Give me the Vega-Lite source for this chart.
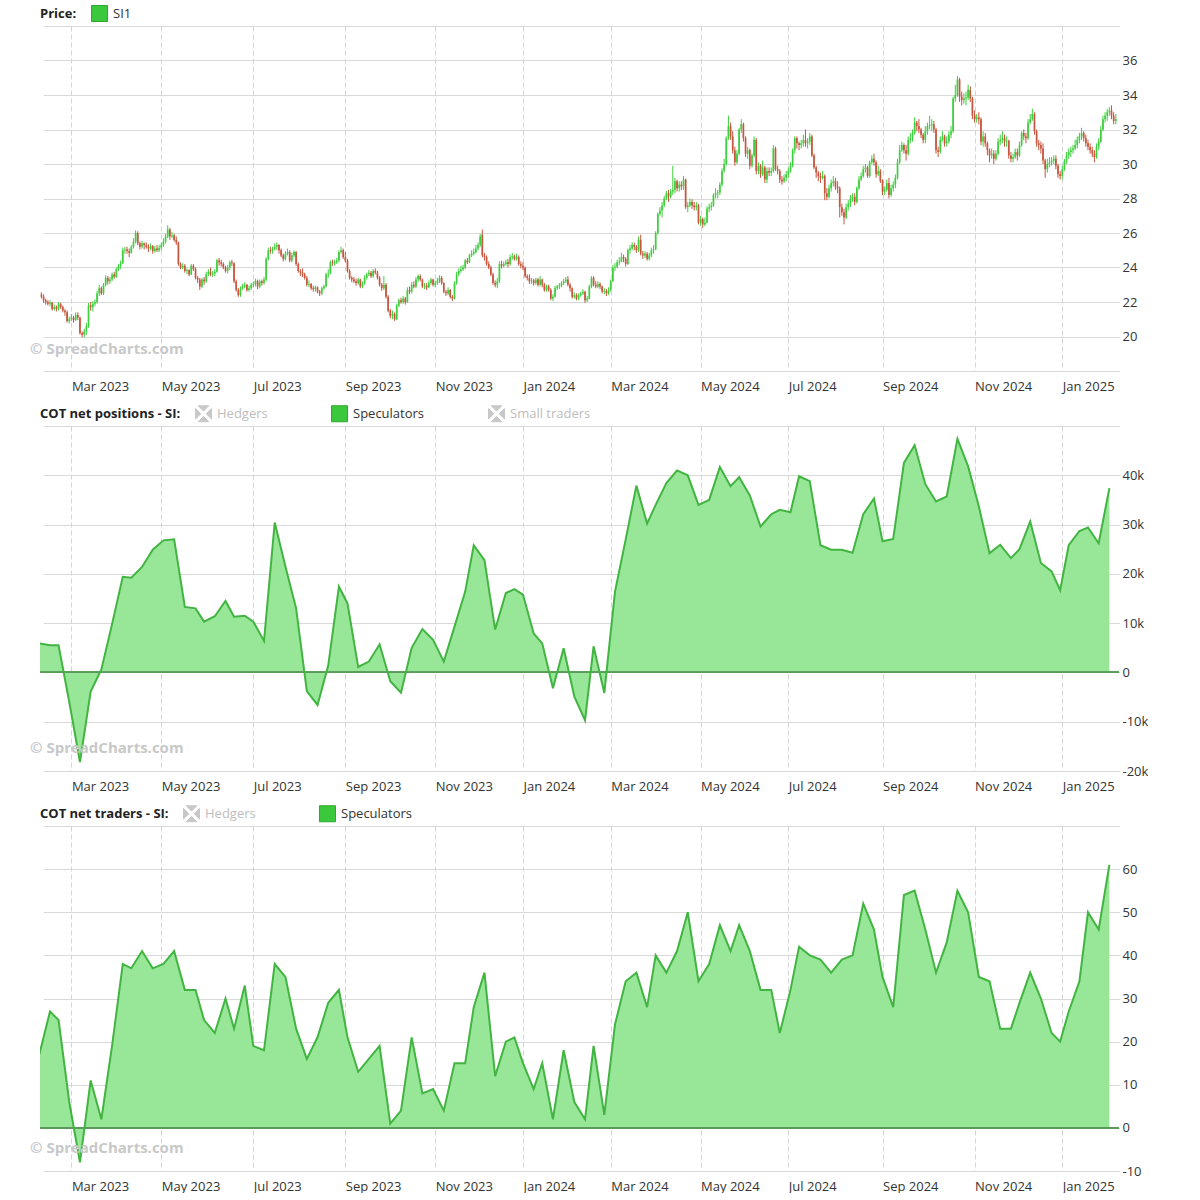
{
"$schema":"https://vega.github.io/schema/vega-lite/v6.json",
"background":"white",
"padding":{"left":30,"top":5,"right":0,"bottom":0},
"autosize":{"type":"pad"},
"config":{"font":"Open Sans","view":{"stroke":null}},
"spacing":55,
"bounds":"flush",
"resolve":{"scale":{"x":"shared","color":"independent"},"axis":{"x":"independent"},"legend":{"color":"independent"}},
"datasets":{
"px":[
{"d":"2023-02-07","o":22.55,"h":22.7,"l":22.3,"c":22.4},
{"d":"2023-02-08","o":22.4,"h":22.55,"l":22.2,"c":22.3},
{"d":"2023-02-09","o":22.3,"h":22.45,"l":21.95,"c":22.1},
{"d":"2023-02-10","o":22.1,"h":22.2,"l":21.85,"c":22.0},
{"d":"2023-02-13","o":22.0,"h":22.1,"l":21.8,"c":21.9},
{"d":"2023-02-14","o":21.9,"h":22.1,"l":21.75,"c":21.95},
{"d":"2023-02-15","o":21.95,"h":22.0,"l":21.5,"c":21.6},
{"d":"2023-02-16","o":21.6,"h":21.85,"l":21.5,"c":21.7},
{"d":"2023-02-17","o":21.7,"h":21.8,"l":21.45,"c":21.6},
{"d":"2023-02-21","o":21.6,"h":22.0,"l":21.5,"c":21.9},
{"d":"2023-02-22","o":21.9,"h":21.95,"l":21.6,"c":21.7},
{"d":"2023-02-23","o":21.7,"h":21.8,"l":21.4,"c":21.5},
{"d":"2023-02-24","o":21.5,"h":21.6,"l":21.2,"c":21.4},
{"d":"2023-02-27","o":21.4,"h":21.5,"l":20.8,"c":20.9},
{"d":"2023-02-28","o":20.9,"h":21.15,"l":20.75,"c":21.0},
{"d":"2023-03-01","o":21.0,"h":21.3,"l":20.9,"c":21.1},
{"d":"2023-03-02","o":21.1,"h":21.2,"l":20.8,"c":20.95},
{"d":"2023-03-03","o":20.95,"h":21.4,"l":20.9,"c":21.25},
{"d":"2023-03-06","o":21.25,"h":21.4,"l":20.95,"c":21.1},
{"d":"2023-03-07","o":21.1,"h":21.15,"l":20.1,"c":20.2},
{"d":"2023-03-08","o":20.2,"h":20.3,"l":19.95,"c":20.1},
{"d":"2023-03-09","o":20.1,"h":20.45,"l":19.95,"c":20.3},
{"d":"2023-03-10","o":20.3,"h":20.8,"l":20.1,"c":20.6},
{"d":"2023-03-13","o":20.6,"h":21.95,"l":20.5,"c":21.8},
{"d":"2023-03-14","o":21.8,"h":22.0,"l":21.5,"c":21.7},
{"d":"2023-03-15","o":21.7,"h":22.05,"l":21.45,"c":21.9},
{"d":"2023-03-16","o":21.9,"h":22.15,"l":21.75,"c":22.0},
{"d":"2023-03-17","o":22.0,"h":22.65,"l":21.9,"c":22.5},
{"d":"2023-03-20","o":22.5,"h":23.0,"l":22.35,"c":22.8},
{"d":"2023-03-21","o":22.8,"h":22.9,"l":22.4,"c":22.5},
{"d":"2023-03-22","o":22.5,"h":23.1,"l":22.4,"c":23.0},
{"d":"2023-03-23","o":23.0,"h":23.55,"l":22.9,"c":23.4},
{"d":"2023-03-24","o":23.4,"h":23.5,"l":23.0,"c":23.2},
{"d":"2023-03-27","o":23.2,"h":23.45,"l":23.05,"c":23.3},
{"d":"2023-03-28","o":23.3,"h":23.7,"l":23.2,"c":23.6},
{"d":"2023-03-29","o":23.6,"h":23.75,"l":23.35,"c":23.45},
{"d":"2023-03-30","o":23.45,"h":24.0,"l":23.4,"c":23.9},
{"d":"2023-03-31","o":23.9,"h":24.2,"l":23.8,"c":24.1},
{"d":"2023-04-03","o":24.1,"h":24.4,"l":23.9,"c":24.25},
{"d":"2023-04-04","o":24.25,"h":25.15,"l":24.2,"c":25.0},
{"d":"2023-04-05","o":25.0,"h":25.2,"l":24.8,"c":25.05},
{"d":"2023-04-06","o":25.05,"h":25.2,"l":24.8,"c":24.95},
{"d":"2023-04-10","o":24.95,"h":25.1,"l":24.6,"c":24.85},
{"d":"2023-04-11","o":24.85,"h":25.3,"l":24.8,"c":25.2},
{"d":"2023-04-12","o":25.2,"h":25.7,"l":25.1,"c":25.5},
{"d":"2023-04-13","o":25.5,"h":26.15,"l":25.4,"c":26.0},
{"d":"2023-04-14","o":26.0,"h":26.1,"l":25.3,"c":25.4},
{"d":"2023-04-17","o":25.4,"h":25.5,"l":25.05,"c":25.2},
{"d":"2023-04-18","o":25.2,"h":25.55,"l":25.1,"c":25.4},
{"d":"2023-04-19","o":25.4,"h":25.45,"l":25.05,"c":25.3},
{"d":"2023-04-20","o":25.3,"h":25.45,"l":25.1,"c":25.2},
{"d":"2023-04-21","o":25.2,"h":25.35,"l":24.9,"c":25.1},
{"d":"2023-04-24","o":25.1,"h":25.4,"l":25.0,"c":25.25},
{"d":"2023-04-25","o":25.25,"h":25.3,"l":24.8,"c":24.95},
{"d":"2023-04-26","o":24.95,"h":25.25,"l":24.85,"c":25.1},
{"d":"2023-04-27","o":25.1,"h":25.3,"l":24.9,"c":25.0},
{"d":"2023-04-28","o":25.0,"h":25.3,"l":24.9,"c":25.15},
{"d":"2023-05-01","o":25.15,"h":25.45,"l":25.0,"c":25.3},
{"d":"2023-05-02","o":25.3,"h":25.7,"l":25.2,"c":25.5},
{"d":"2023-05-03","o":25.5,"h":25.95,"l":25.4,"c":25.8},
{"d":"2023-05-04","o":25.8,"h":26.45,"l":25.7,"c":26.2},
{"d":"2023-05-05","o":26.2,"h":26.3,"l":25.6,"c":25.8},
{"d":"2023-05-08","o":25.8,"h":26.05,"l":25.7,"c":25.85},
{"d":"2023-05-09","o":25.85,"h":25.95,"l":25.5,"c":25.6},
{"d":"2023-05-10","o":25.6,"h":25.8,"l":25.3,"c":25.45},
{"d":"2023-05-11","o":25.45,"h":25.5,"l":24.1,"c":24.2},
{"d":"2023-05-12","o":24.2,"h":24.3,"l":23.9,"c":24.0},
{"d":"2023-05-15","o":24.0,"h":24.25,"l":23.9,"c":24.1},
{"d":"2023-05-16","o":24.1,"h":24.2,"l":23.7,"c":23.8},
{"d":"2023-05-17","o":23.8,"h":23.95,"l":23.6,"c":23.85},
{"d":"2023-05-18","o":23.85,"h":23.9,"l":23.5,"c":23.6},
{"d":"2023-05-19","o":23.6,"h":24.2,"l":23.55,"c":24.1},
{"d":"2023-05-22","o":24.1,"h":24.2,"l":23.8,"c":23.9},
{"d":"2023-05-23","o":23.9,"h":24.0,"l":23.3,"c":23.4},
{"d":"2023-05-24","o":23.4,"h":23.5,"l":23.1,"c":23.3},
{"d":"2023-05-25","o":23.3,"h":23.4,"l":22.7,"c":22.9},
{"d":"2023-05-26","o":22.9,"h":23.4,"l":22.8,"c":23.3},
{"d":"2023-05-30","o":23.3,"h":23.45,"l":23.0,"c":23.2},
{"d":"2023-05-31","o":23.2,"h":23.75,"l":23.1,"c":23.6},
{"d":"2023-06-01","o":23.6,"h":23.9,"l":23.5,"c":23.75},
{"d":"2023-06-02","o":23.75,"h":24.0,"l":23.5,"c":23.6},
{"d":"2023-06-05","o":23.6,"h":23.8,"l":23.45,"c":23.65},
{"d":"2023-06-06","o":23.65,"h":23.9,"l":23.5,"c":23.75},
{"d":"2023-06-07","o":23.75,"h":24.5,"l":23.7,"c":24.4},
{"d":"2023-06-08","o":24.4,"h":24.55,"l":24.1,"c":24.3},
{"d":"2023-06-09","o":24.3,"h":24.45,"l":24.05,"c":24.2},
{"d":"2023-06-12","o":24.2,"h":24.3,"l":23.9,"c":24.0},
{"d":"2023-06-13","o":24.0,"h":24.1,"l":23.7,"c":23.8},
{"d":"2023-06-14","o":23.8,"h":24.15,"l":23.65,"c":24.0},
{"d":"2023-06-15","o":24.0,"h":24.4,"l":23.85,"c":24.3},
{"d":"2023-06-16","o":24.3,"h":24.45,"l":24.1,"c":24.25},
{"d":"2023-06-20","o":24.25,"h":24.3,"l":23.1,"c":23.2},
{"d":"2023-06-21","o":23.2,"h":23.3,"l":22.6,"c":22.7},
{"d":"2023-06-22","o":22.7,"h":22.8,"l":22.3,"c":22.4},
{"d":"2023-06-23","o":22.4,"h":22.9,"l":22.3,"c":22.8},
{"d":"2023-06-26","o":22.8,"h":23.05,"l":22.7,"c":22.9},
{"d":"2023-06-27","o":22.9,"h":23.15,"l":22.8,"c":23.0},
{"d":"2023-06-28","o":23.0,"h":23.05,"l":22.6,"c":22.7},
{"d":"2023-06-29","o":22.7,"h":22.95,"l":22.6,"c":22.8},
{"d":"2023-06-30","o":22.8,"h":23.1,"l":22.7,"c":23.0},
{"d":"2023-07-03","o":23.0,"h":23.2,"l":22.85,"c":23.05},
{"d":"2023-07-05","o":23.05,"h":23.35,"l":22.9,"c":23.2},
{"d":"2023-07-06","o":23.2,"h":23.3,"l":22.75,"c":22.9},
{"d":"2023-07-07","o":22.9,"h":23.3,"l":22.8,"c":23.2},
{"d":"2023-07-10","o":23.2,"h":23.3,"l":22.95,"c":23.1},
{"d":"2023-07-11","o":23.1,"h":23.45,"l":23.0,"c":23.3},
{"d":"2023-07-12","o":23.3,"h":24.6,"l":23.2,"c":24.5},
{"d":"2023-07-13","o":24.5,"h":25.15,"l":24.4,"c":25.0},
{"d":"2023-07-14","o":25.0,"h":25.2,"l":24.8,"c":24.95},
{"d":"2023-07-17","o":24.95,"h":25.2,"l":24.8,"c":25.1},
{"d":"2023-07-18","o":25.1,"h":25.4,"l":25.0,"c":25.2},
{"d":"2023-07-19","o":25.2,"h":25.45,"l":25.0,"c":25.3},
{"d":"2023-07-20","o":25.3,"h":25.35,"l":24.8,"c":25.0},
{"d":"2023-07-21","o":25.0,"h":25.1,"l":24.6,"c":24.7},
{"d":"2023-07-24","o":24.7,"h":24.8,"l":24.35,"c":24.5},
{"d":"2023-07-25","o":24.5,"h":24.95,"l":24.4,"c":24.8},
{"d":"2023-07-26","o":24.8,"h":25.1,"l":24.7,"c":24.9},
{"d":"2023-07-27","o":24.9,"h":25.0,"l":24.3,"c":24.4},
{"d":"2023-07-28","o":24.4,"h":24.85,"l":24.3,"c":24.7},
{"d":"2023-07-31","o":24.7,"h":25.0,"l":24.6,"c":24.9},
{"d":"2023-08-01","o":24.9,"h":24.95,"l":24.1,"c":24.2},
{"d":"2023-08-02","o":24.2,"h":24.3,"l":23.7,"c":23.8},
{"d":"2023-08-03","o":23.8,"h":23.9,"l":23.5,"c":23.7},
{"d":"2023-08-04","o":23.7,"h":23.95,"l":23.45,"c":23.6},
{"d":"2023-08-07","o":23.6,"h":23.7,"l":23.3,"c":23.4},
{"d":"2023-08-08","o":23.4,"h":23.5,"l":22.9,"c":23.0},
{"d":"2023-08-09","o":23.0,"h":23.25,"l":22.85,"c":23.05},
{"d":"2023-08-10","o":23.05,"h":23.1,"l":22.7,"c":22.8},
{"d":"2023-08-11","o":22.8,"h":22.95,"l":22.6,"c":22.75},
{"d":"2023-08-14","o":22.75,"h":22.95,"l":22.6,"c":22.85},
{"d":"2023-08-15","o":22.85,"h":22.9,"l":22.5,"c":22.6},
{"d":"2023-08-16","o":22.6,"h":22.7,"l":22.35,"c":22.5},
{"d":"2023-08-17","o":22.5,"h":22.9,"l":22.4,"c":22.8},
{"d":"2023-08-18","o":22.8,"h":23.0,"l":22.7,"c":22.9},
{"d":"2023-08-21","o":22.9,"h":23.7,"l":22.85,"c":23.6},
{"d":"2023-08-22","o":23.6,"h":23.9,"l":23.4,"c":23.65},
{"d":"2023-08-23","o":23.65,"h":24.4,"l":23.6,"c":24.3},
{"d":"2023-08-24","o":24.3,"h":24.45,"l":24.1,"c":24.25},
{"d":"2023-08-25","o":24.25,"h":24.45,"l":24.1,"c":24.3},
{"d":"2023-08-28","o":24.3,"h":24.55,"l":24.2,"c":24.4},
{"d":"2023-08-29","o":24.4,"h":25.0,"l":24.3,"c":24.9},
{"d":"2023-08-30","o":24.9,"h":25.2,"l":24.8,"c":25.0},
{"d":"2023-08-31","o":25.0,"h":25.1,"l":24.5,"c":24.6},
{"d":"2023-09-01","o":24.6,"h":24.9,"l":24.3,"c":24.4},
{"d":"2023-09-05","o":24.4,"h":24.5,"l":23.7,"c":23.8},
{"d":"2023-09-06","o":23.8,"h":23.9,"l":23.3,"c":23.4},
{"d":"2023-09-07","o":23.4,"h":23.5,"l":23.15,"c":23.3},
{"d":"2023-09-08","o":23.3,"h":23.45,"l":23.1,"c":23.2},
{"d":"2023-09-11","o":23.2,"h":23.35,"l":22.95,"c":23.1},
{"d":"2023-09-12","o":23.1,"h":23.4,"l":23.0,"c":23.3},
{"d":"2023-09-13","o":23.3,"h":23.35,"l":22.8,"c":22.9},
{"d":"2023-09-14","o":22.9,"h":23.2,"l":22.8,"c":23.1},
{"d":"2023-09-15","o":23.1,"h":23.55,"l":23.0,"c":23.4},
{"d":"2023-09-18","o":23.4,"h":23.7,"l":23.3,"c":23.6},
{"d":"2023-09-19","o":23.6,"h":23.85,"l":23.5,"c":23.7},
{"d":"2023-09-20","o":23.7,"h":23.8,"l":23.4,"c":23.5},
{"d":"2023-09-21","o":23.5,"h":23.9,"l":23.4,"c":23.8},
{"d":"2023-09-22","o":23.8,"h":23.95,"l":23.6,"c":23.7},
{"d":"2023-09-25","o":23.7,"h":23.8,"l":23.3,"c":23.4},
{"d":"2023-09-26","o":23.4,"h":23.5,"l":22.9,"c":23.0},
{"d":"2023-09-27","o":23.0,"h":23.1,"l":22.65,"c":22.8},
{"d":"2023-09-28","o":22.8,"h":23.5,"l":22.7,"c":23.0},
{"d":"2023-09-29","o":23.0,"h":23.1,"l":22.2,"c":22.3},
{"d":"2023-10-02","o":22.3,"h":22.4,"l":21.4,"c":21.5},
{"d":"2023-10-03","o":21.5,"h":21.6,"l":21.05,"c":21.2},
{"d":"2023-10-04","o":21.2,"h":21.5,"l":21.0,"c":21.3},
{"d":"2023-10-05","o":21.3,"h":21.4,"l":20.9,"c":21.0},
{"d":"2023-10-06","o":21.0,"h":21.9,"l":20.95,"c":21.8},
{"d":"2023-10-09","o":21.8,"h":22.2,"l":21.7,"c":22.1},
{"d":"2023-10-10","o":22.1,"h":22.25,"l":21.9,"c":22.0},
{"d":"2023-10-11","o":22.0,"h":22.35,"l":21.9,"c":22.2},
{"d":"2023-10-12","o":22.2,"h":22.3,"l":21.85,"c":22.0},
{"d":"2023-10-13","o":22.0,"h":22.85,"l":21.95,"c":22.7},
{"d":"2023-10-16","o":22.7,"h":22.9,"l":22.45,"c":22.6},
{"d":"2023-10-17","o":22.6,"h":23.15,"l":22.5,"c":23.0},
{"d":"2023-10-18","o":23.0,"h":23.2,"l":22.8,"c":22.9},
{"d":"2023-10-19","o":22.9,"h":23.45,"l":22.8,"c":23.3},
{"d":"2023-10-20","o":23.3,"h":23.6,"l":23.15,"c":23.5},
{"d":"2023-10-23","o":23.5,"h":23.6,"l":23.2,"c":23.3},
{"d":"2023-10-24","o":23.3,"h":23.35,"l":22.8,"c":22.9},
{"d":"2023-10-25","o":22.9,"h":23.1,"l":22.75,"c":22.95},
{"d":"2023-10-26","o":22.95,"h":23.1,"l":22.7,"c":22.85},
{"d":"2023-10-27","o":22.85,"h":23.25,"l":22.8,"c":23.1},
{"d":"2023-10-30","o":23.1,"h":23.4,"l":23.0,"c":23.3},
{"d":"2023-10-31","o":23.3,"h":23.35,"l":22.9,"c":23.0},
{"d":"2023-11-01","o":23.0,"h":23.25,"l":22.85,"c":23.1},
{"d":"2023-11-02","o":23.1,"h":23.4,"l":23.0,"c":23.2},
{"d":"2023-11-03","o":23.2,"h":23.55,"l":23.1,"c":23.4},
{"d":"2023-11-06","o":23.4,"h":23.5,"l":23.0,"c":23.1},
{"d":"2023-11-07","o":23.1,"h":23.15,"l":22.5,"c":22.6},
{"d":"2023-11-08","o":22.6,"h":22.7,"l":22.35,"c":22.5},
{"d":"2023-11-09","o":22.5,"h":22.85,"l":22.4,"c":22.7},
{"d":"2023-11-10","o":22.7,"h":22.75,"l":22.2,"c":22.3},
{"d":"2023-11-13","o":22.3,"h":22.4,"l":22.05,"c":22.2},
{"d":"2023-11-14","o":22.2,"h":23.2,"l":22.15,"c":23.1},
{"d":"2023-11-15","o":23.1,"h":23.75,"l":23.0,"c":23.6},
{"d":"2023-11-16","o":23.6,"h":23.95,"l":23.5,"c":23.8},
{"d":"2023-11-17","o":23.8,"h":24.1,"l":23.7,"c":23.9},
{"d":"2023-11-20","o":23.9,"h":24.15,"l":23.8,"c":24.0},
{"d":"2023-11-21","o":24.0,"h":24.5,"l":23.9,"c":24.4},
{"d":"2023-11-22","o":24.4,"h":24.55,"l":24.2,"c":24.3},
{"d":"2023-11-24","o":24.3,"h":24.8,"l":24.25,"c":24.7},
{"d":"2023-11-27","o":24.7,"h":25.0,"l":24.6,"c":24.8},
{"d":"2023-11-28","o":24.8,"h":25.1,"l":24.7,"c":24.9},
{"d":"2023-11-29","o":24.9,"h":25.3,"l":24.8,"c":25.1},
{"d":"2023-11-30","o":25.1,"h":25.45,"l":25.0,"c":25.3},
{"d":"2023-12-01","o":25.3,"h":25.95,"l":25.2,"c":25.8},
{"d":"2023-12-04","o":25.9,"h":26.2,"l":24.6,"c":24.7},
{"d":"2023-12-05","o":24.7,"h":24.85,"l":24.4,"c":24.6},
{"d":"2023-12-06","o":24.6,"h":24.7,"l":24.1,"c":24.2},
{"d":"2023-12-07","o":24.2,"h":24.35,"l":23.9,"c":24.0},
{"d":"2023-12-08","o":24.0,"h":24.1,"l":23.5,"c":23.6},
{"d":"2023-12-11","o":23.6,"h":23.7,"l":23.0,"c":23.1},
{"d":"2023-12-12","o":23.1,"h":23.25,"l":22.85,"c":23.0},
{"d":"2023-12-13","o":23.0,"h":23.4,"l":22.8,"c":23.2},
{"d":"2023-12-14","o":23.2,"h":24.35,"l":23.1,"c":24.2},
{"d":"2023-12-15","o":24.2,"h":24.4,"l":23.95,"c":24.1},
{"d":"2023-12-18","o":24.1,"h":24.35,"l":24.0,"c":24.2},
{"d":"2023-12-19","o":24.2,"h":24.45,"l":24.1,"c":24.3},
{"d":"2023-12-20","o":24.3,"h":24.5,"l":24.0,"c":24.2},
{"d":"2023-12-21","o":24.2,"h":24.75,"l":24.1,"c":24.6},
{"d":"2023-12-22","o":24.6,"h":24.85,"l":24.45,"c":24.65},
{"d":"2023-12-26","o":24.65,"h":24.75,"l":24.4,"c":24.5},
{"d":"2023-12-27","o":24.5,"h":24.8,"l":24.4,"c":24.6},
{"d":"2023-12-28","o":24.6,"h":24.7,"l":24.1,"c":24.2},
{"d":"2023-12-29","o":24.2,"h":24.35,"l":23.95,"c":24.1},
{"d":"2024-01-02","o":24.1,"h":24.3,"l":23.85,"c":24.0},
{"d":"2024-01-03","o":24.0,"h":24.05,"l":23.4,"c":23.5},
{"d":"2024-01-04","o":23.5,"h":23.6,"l":23.25,"c":23.4},
{"d":"2024-01-05","o":23.4,"h":23.6,"l":23.05,"c":23.2},
{"d":"2024-01-08","o":23.2,"h":23.4,"l":23.05,"c":23.25},
{"d":"2024-01-09","o":23.25,"h":23.35,"l":22.95,"c":23.1},
{"d":"2024-01-10","o":23.1,"h":23.4,"l":23.0,"c":23.3},
{"d":"2024-01-11","o":23.3,"h":23.4,"l":22.9,"c":23.0},
{"d":"2024-01-12","o":23.0,"h":23.5,"l":22.9,"c":23.3},
{"d":"2024-01-16","o":23.3,"h":23.35,"l":22.85,"c":23.0},
{"d":"2024-01-17","o":23.0,"h":23.1,"l":22.6,"c":22.7},
{"d":"2024-01-18","o":22.7,"h":23.0,"l":22.6,"c":22.9},
{"d":"2024-01-19","o":22.9,"h":23.0,"l":22.6,"c":22.7},
{"d":"2024-01-22","o":22.7,"h":22.8,"l":22.1,"c":22.2},
{"d":"2024-01-23","o":22.2,"h":22.45,"l":22.05,"c":22.3},
{"d":"2024-01-24","o":22.3,"h":22.95,"l":22.25,"c":22.8},
{"d":"2024-01-25","o":22.8,"h":23.0,"l":22.7,"c":22.9},
{"d":"2024-01-26","o":22.9,"h":23.1,"l":22.75,"c":22.95},
{"d":"2024-01-29","o":22.95,"h":23.2,"l":22.85,"c":23.1},
{"d":"2024-01-30","o":23.1,"h":23.35,"l":23.0,"c":23.2},
{"d":"2024-01-31","o":23.2,"h":23.45,"l":23.1,"c":23.3},
{"d":"2024-02-01","o":23.3,"h":23.5,"l":22.9,"c":23.0},
{"d":"2024-02-02","o":23.0,"h":23.1,"l":22.6,"c":22.8},
{"d":"2024-02-05","o":22.8,"h":22.85,"l":22.2,"c":22.3},
{"d":"2024-02-06","o":22.3,"h":22.55,"l":22.2,"c":22.4},
{"d":"2024-02-07","o":22.4,"h":22.5,"l":22.1,"c":22.2},
{"d":"2024-02-08","o":22.2,"h":22.5,"l":22.1,"c":22.4},
{"d":"2024-02-09","o":22.4,"h":22.6,"l":22.3,"c":22.5},
{"d":"2024-02-12","o":22.5,"h":22.75,"l":22.4,"c":22.6},
{"d":"2024-02-13","o":22.6,"h":22.65,"l":21.95,"c":22.1},
{"d":"2024-02-14","o":22.1,"h":22.35,"l":22.0,"c":22.2},
{"d":"2024-02-15","o":22.2,"h":23.0,"l":22.15,"c":22.9},
{"d":"2024-02-16","o":22.9,"h":23.5,"l":22.8,"c":23.4},
{"d":"2024-02-20","o":23.4,"h":23.5,"l":22.9,"c":23.0},
{"d":"2024-02-21","o":23.0,"h":23.2,"l":22.8,"c":22.9},
{"d":"2024-02-22","o":22.9,"h":23.2,"l":22.8,"c":23.05},
{"d":"2024-02-23","o":23.05,"h":23.15,"l":22.75,"c":22.9},
{"d":"2024-02-26","o":22.9,"h":22.95,"l":22.5,"c":22.6},
{"d":"2024-02-27","o":22.6,"h":22.8,"l":22.45,"c":22.65},
{"d":"2024-02-28","o":22.65,"h":22.75,"l":22.35,"c":22.5},
{"d":"2024-02-29","o":22.5,"h":22.85,"l":22.4,"c":22.7},
{"d":"2024-03-01","o":22.7,"h":23.3,"l":22.6,"c":23.2},
{"d":"2024-03-04","o":23.2,"h":24.15,"l":23.15,"c":24.0},
{"d":"2024-03-05","o":24.0,"h":24.25,"l":23.8,"c":24.05},
{"d":"2024-03-06","o":24.05,"h":24.45,"l":23.95,"c":24.3},
{"d":"2024-03-07","o":24.3,"h":24.6,"l":24.15,"c":24.35},
{"d":"2024-03-08","o":24.35,"h":24.85,"l":24.3,"c":24.6},
{"d":"2024-03-11","o":24.6,"h":24.75,"l":24.3,"c":24.5},
{"d":"2024-03-12","o":24.5,"h":24.6,"l":24.05,"c":24.2},
{"d":"2024-03-13","o":24.2,"h":25.1,"l":24.15,"c":25.0},
{"d":"2024-03-14","o":25.0,"h":25.3,"l":24.8,"c":25.1},
{"d":"2024-03-15","o":25.1,"h":25.45,"l":25.0,"c":25.3},
{"d":"2024-03-18","o":25.3,"h":25.45,"l":25.0,"c":25.2},
{"d":"2024-03-19","o":25.2,"h":25.3,"l":24.85,"c":25.0},
{"d":"2024-03-20","o":25.0,"h":25.8,"l":24.9,"c":25.6},
{"d":"2024-03-21","o":25.6,"h":25.9,"l":24.7,"c":24.8},
{"d":"2024-03-22","o":24.8,"h":24.95,"l":24.5,"c":24.7},
{"d":"2024-03-25","o":24.7,"h":24.95,"l":24.55,"c":24.8},
{"d":"2024-03-26","o":24.8,"h":24.9,"l":24.4,"c":24.5},
{"d":"2024-03-27","o":24.5,"h":24.85,"l":24.4,"c":24.7},
{"d":"2024-03-28","o":24.7,"h":25.15,"l":24.6,"c":25.0},
{"d":"2024-04-01","o":25.0,"h":25.3,"l":24.8,"c":25.05},
{"d":"2024-04-02","o":25.05,"h":26.1,"l":25.0,"c":26.0},
{"d":"2024-04-03","o":26.0,"h":27.2,"l":25.9,"c":27.1},
{"d":"2024-04-04","o":27.1,"h":27.5,"l":27.0,"c":27.3},
{"d":"2024-04-05","o":27.3,"h":27.8,"l":26.9,"c":27.6},
{"d":"2024-04-08","o":27.6,"h":28.15,"l":27.5,"c":28.0},
{"d":"2024-04-09","o":28.0,"h":28.45,"l":27.9,"c":28.3},
{"d":"2024-04-10","o":28.3,"h":28.5,"l":27.8,"c":28.1},
{"d":"2024-04-11","o":28.1,"h":28.55,"l":28.0,"c":28.4},
{"d":"2024-04-12","o":28.4,"h":29.9,"l":28.2,"c":28.5},
{"d":"2024-04-15","o":28.5,"h":29.2,"l":28.3,"c":29.0},
{"d":"2024-04-16","o":29.0,"h":29.1,"l":28.4,"c":28.6},
{"d":"2024-04-17","o":28.6,"h":29.0,"l":28.4,"c":28.8},
{"d":"2024-04-18","o":28.8,"h":29.0,"l":28.5,"c":28.7},
{"d":"2024-04-19","o":28.7,"h":29.3,"l":28.5,"c":29.1},
{"d":"2024-04-22","o":29.1,"h":29.15,"l":27.4,"c":27.5},
{"d":"2024-04-23","o":27.5,"h":27.8,"l":27.2,"c":27.6},
{"d":"2024-04-24","o":27.6,"h":28.0,"l":27.5,"c":27.8},
{"d":"2024-04-25","o":27.8,"h":27.95,"l":27.4,"c":27.6},
{"d":"2024-04-26","o":27.6,"h":27.8,"l":27.3,"c":27.5},
{"d":"2024-04-29","o":27.5,"h":27.8,"l":27.3,"c":27.6},
{"d":"2024-04-30","o":27.6,"h":27.7,"l":26.5,"c":26.6},
{"d":"2024-05-01","o":26.6,"h":27.0,"l":26.4,"c":26.8},
{"d":"2024-05-02","o":26.8,"h":26.9,"l":26.3,"c":26.5},
{"d":"2024-05-03","o":26.5,"h":26.9,"l":26.4,"c":26.6},
{"d":"2024-05-06","o":26.6,"h":27.55,"l":26.55,"c":27.4},
{"d":"2024-05-07","o":27.4,"h":27.7,"l":27.2,"c":27.5},
{"d":"2024-05-08","o":27.5,"h":27.8,"l":27.3,"c":27.6},
{"d":"2024-05-09","o":27.6,"h":28.3,"l":27.5,"c":28.2},
{"d":"2024-05-10","o":28.2,"h":28.6,"l":28.0,"c":28.3},
{"d":"2024-05-13","o":28.3,"h":28.5,"l":28.0,"c":28.35},
{"d":"2024-05-14","o":28.35,"h":28.95,"l":28.2,"c":28.8},
{"d":"2024-05-15","o":28.8,"h":29.75,"l":28.7,"c":29.6},
{"d":"2024-05-16","o":29.6,"h":30.3,"l":29.5,"c":30.0},
{"d":"2024-05-17","o":30.0,"h":31.6,"l":29.9,"c":31.5},
{"d":"2024-05-20","o":31.5,"h":32.8,"l":31.4,"c":32.2},
{"d":"2024-05-21","o":32.2,"h":32.4,"l":31.4,"c":31.6},
{"d":"2024-05-22","o":31.6,"h":31.9,"l":30.6,"c":30.8},
{"d":"2024-05-23","o":30.8,"h":31.0,"l":29.9,"c":30.1},
{"d":"2024-05-24","o":30.1,"h":30.8,"l":30.0,"c":30.6},
{"d":"2024-05-28","o":30.6,"h":32.1,"l":30.5,"c":32.0},
{"d":"2024-05-29","o":32.0,"h":32.6,"l":31.8,"c":32.3},
{"d":"2024-05-30","o":32.3,"h":32.4,"l":31.3,"c":31.5},
{"d":"2024-05-31","o":31.5,"h":31.6,"l":30.4,"c":30.6},
{"d":"2024-06-03","o":30.6,"h":31.0,"l":30.3,"c":30.8},
{"d":"2024-06-04","o":30.8,"h":30.9,"l":29.7,"c":29.9},
{"d":"2024-06-05","o":29.9,"h":30.6,"l":29.8,"c":30.5},
{"d":"2024-06-06","o":30.5,"h":31.6,"l":30.4,"c":31.4},
{"d":"2024-06-07","o":31.4,"h":31.5,"l":29.4,"c":29.6},
{"d":"2024-06-10","o":29.6,"h":30.1,"l":29.4,"c":29.9},
{"d":"2024-06-11","o":29.9,"h":30.0,"l":29.2,"c":29.4},
{"d":"2024-06-12","o":29.4,"h":30.2,"l":29.3,"c":29.8},
{"d":"2024-06-13","o":29.8,"h":29.9,"l":28.9,"c":29.1},
{"d":"2024-06-14","o":29.1,"h":29.8,"l":28.9,"c":29.6},
{"d":"2024-06-17","o":29.6,"h":29.8,"l":29.3,"c":29.5},
{"d":"2024-06-18","o":29.5,"h":29.8,"l":29.3,"c":29.6},
{"d":"2024-06-20","o":29.6,"h":31.1,"l":29.5,"c":30.9},
{"d":"2024-06-21","o":30.9,"h":31.0,"l":29.6,"c":29.7},
{"d":"2024-06-24","o":29.7,"h":29.9,"l":29.4,"c":29.6},
{"d":"2024-06-25","o":29.6,"h":29.7,"l":28.9,"c":29.1},
{"d":"2024-06-26","o":29.1,"h":29.3,"l":28.8,"c":29.0},
{"d":"2024-06-27","o":29.0,"h":29.4,"l":28.9,"c":29.2},
{"d":"2024-06-28","o":29.2,"h":29.6,"l":29.0,"c":29.4},
{"d":"2024-07-01","o":29.4,"h":29.8,"l":29.2,"c":29.6},
{"d":"2024-07-02","o":29.6,"h":30.1,"l":29.5,"c":29.9},
{"d":"2024-07-03","o":29.9,"h":30.9,"l":29.8,"c":30.8},
{"d":"2024-07-05","o":30.8,"h":31.6,"l":30.6,"c":31.5},
{"d":"2024-07-08","o":31.5,"h":31.6,"l":30.9,"c":31.2},
{"d":"2024-07-09","o":31.2,"h":31.3,"l":30.8,"c":31.1},
{"d":"2024-07-10","o":31.1,"h":31.4,"l":30.9,"c":31.2},
{"d":"2024-07-11","o":31.2,"h":31.7,"l":31.0,"c":31.4},
{"d":"2024-07-12","o":31.4,"h":32.0,"l":31.0,"c":31.2},
{"d":"2024-07-15","o":31.2,"h":31.5,"l":30.9,"c":31.3},
{"d":"2024-07-16","o":31.3,"h":31.8,"l":31.1,"c":31.6},
{"d":"2024-07-17","o":31.6,"h":31.7,"l":30.4,"c":30.5},
{"d":"2024-07-18","o":30.5,"h":30.6,"l":29.7,"c":29.8},
{"d":"2024-07-19","o":29.8,"h":29.9,"l":29.2,"c":29.5},
{"d":"2024-07-22","o":29.5,"h":29.6,"l":29.0,"c":29.3},
{"d":"2024-07-23","o":29.3,"h":29.5,"l":28.9,"c":29.2},
{"d":"2024-07-24","o":29.2,"h":29.6,"l":29.1,"c":29.3},
{"d":"2024-07-25","o":29.3,"h":29.4,"l":27.9,"c":28.3},
{"d":"2024-07-26","o":28.3,"h":28.6,"l":27.9,"c":28.1},
{"d":"2024-07-29","o":28.1,"h":28.8,"l":28.0,"c":28.6},
{"d":"2024-07-30","o":28.6,"h":29.1,"l":28.4,"c":28.9},
{"d":"2024-07-31","o":28.9,"h":29.3,"l":28.7,"c":29.0},
{"d":"2024-08-01","o":29.0,"h":29.2,"l":28.5,"c":28.7},
{"d":"2024-08-02","o":28.7,"h":29.0,"l":28.3,"c":28.6},
{"d":"2024-08-05","o":28.6,"h":28.7,"l":26.9,"c":27.5},
{"d":"2024-08-06","o":27.5,"h":27.7,"l":27.0,"c":27.2},
{"d":"2024-08-07","o":27.2,"h":27.4,"l":26.5,"c":26.9},
{"d":"2024-08-08","o":26.9,"h":27.7,"l":26.8,"c":27.5},
{"d":"2024-08-09","o":27.5,"h":27.9,"l":27.3,"c":27.7},
{"d":"2024-08-12","o":27.7,"h":28.2,"l":27.5,"c":28.0},
{"d":"2024-08-13","o":28.0,"h":28.3,"l":27.8,"c":28.1},
{"d":"2024-08-14","o":28.1,"h":28.3,"l":27.6,"c":27.8},
{"d":"2024-08-15","o":27.8,"h":28.7,"l":27.7,"c":28.6},
{"d":"2024-08-16","o":28.6,"h":29.3,"l":28.5,"c":29.1},
{"d":"2024-08-19","o":29.1,"h":29.5,"l":29.0,"c":29.3},
{"d":"2024-08-20","o":29.3,"h":29.9,"l":29.2,"c":29.7},
{"d":"2024-08-21","o":29.7,"h":30.0,"l":29.5,"c":29.8},
{"d":"2024-08-22","o":29.8,"h":29.9,"l":29.2,"c":29.3},
{"d":"2024-08-23","o":29.3,"h":30.2,"l":29.2,"c":30.1},
{"d":"2024-08-26","o":30.1,"h":30.5,"l":30.0,"c":30.3},
{"d":"2024-08-27","o":30.3,"h":30.6,"l":29.9,"c":30.1},
{"d":"2024-08-28","o":30.1,"h":30.2,"l":29.2,"c":29.4},
{"d":"2024-08-29","o":29.4,"h":29.9,"l":29.3,"c":29.6},
{"d":"2024-08-30","o":29.6,"h":29.7,"l":28.9,"c":29.0},
{"d":"2024-09-03","o":29.0,"h":29.1,"l":28.2,"c":28.4},
{"d":"2024-09-04","o":28.4,"h":28.7,"l":28.2,"c":28.5},
{"d":"2024-09-05","o":28.5,"h":29.1,"l":28.4,"c":28.9},
{"d":"2024-09-06","o":28.9,"h":29.2,"l":28.0,"c":28.2},
{"d":"2024-09-09","o":28.2,"h":28.8,"l":28.1,"c":28.6},
{"d":"2024-09-10","o":28.6,"h":29.0,"l":28.4,"c":28.8},
{"d":"2024-09-11","o":28.8,"h":29.4,"l":28.6,"c":29.2},
{"d":"2024-09-12","o":29.2,"h":30.3,"l":29.1,"c":30.1},
{"d":"2024-09-13","o":30.1,"h":31.1,"l":30.0,"c":30.8},
{"d":"2024-09-16","o":30.8,"h":31.3,"l":30.7,"c":31.1},
{"d":"2024-09-17","o":31.1,"h":31.2,"l":30.6,"c":30.8},
{"d":"2024-09-18","o":30.8,"h":31.1,"l":30.2,"c":30.6},
{"d":"2024-09-19","o":30.6,"h":31.6,"l":30.5,"c":31.4},
{"d":"2024-09-20","o":31.4,"h":31.8,"l":31.2,"c":31.5},
{"d":"2024-09-23","o":31.5,"h":32.0,"l":31.3,"c":31.8},
{"d":"2024-09-24","o":31.8,"h":32.7,"l":31.7,"c":32.4},
{"d":"2024-09-25","o":32.4,"h":32.5,"l":31.9,"c":32.2},
{"d":"2024-09-26","o":32.2,"h":32.6,"l":31.8,"c":32.0},
{"d":"2024-09-27","o":32.0,"h":32.1,"l":31.5,"c":31.7},
{"d":"2024-09-30","o":31.7,"h":31.8,"l":31.2,"c":31.4},
{"d":"2024-10-01","o":31.4,"h":32.2,"l":31.2,"c":31.9},
{"d":"2024-10-02","o":31.9,"h":32.4,"l":31.7,"c":32.2},
{"d":"2024-10-03","o":32.2,"h":32.8,"l":32.0,"c":32.25},
{"d":"2024-10-04","o":32.25,"h":32.6,"l":31.9,"c":32.3},
{"d":"2024-10-07","o":32.3,"h":32.5,"l":31.8,"c":32.0},
{"d":"2024-10-08","o":32.0,"h":32.1,"l":30.6,"c":30.8},
{"d":"2024-10-09","o":30.8,"h":31.0,"l":30.4,"c":30.7},
{"d":"2024-10-10","o":30.7,"h":31.6,"l":30.6,"c":31.4},
{"d":"2024-10-11","o":31.4,"h":31.9,"l":31.3,"c":31.6},
{"d":"2024-10-14","o":31.6,"h":31.7,"l":31.0,"c":31.2},
{"d":"2024-10-15","o":31.2,"h":31.6,"l":31.0,"c":31.3},
{"d":"2024-10-16","o":31.3,"h":31.9,"l":31.2,"c":31.7},
{"d":"2024-10-17","o":31.7,"h":32.2,"l":31.5,"c":31.9},
{"d":"2024-10-18","o":31.9,"h":33.9,"l":31.8,"c":33.8},
{"d":"2024-10-21","o":33.8,"h":34.6,"l":33.6,"c":34.0},
{"d":"2024-10-22","o":34.0,"h":35.1,"l":33.9,"c":34.9},
{"d":"2024-10-23","o":34.9,"h":35.0,"l":33.6,"c":33.9},
{"d":"2024-10-24","o":33.9,"h":34.2,"l":33.4,"c":33.7},
{"d":"2024-10-25","o":33.7,"h":34.1,"l":33.5,"c":33.8},
{"d":"2024-10-28","o":33.8,"h":34.2,"l":33.4,"c":33.85},
{"d":"2024-10-29","o":33.85,"h":34.6,"l":33.7,"c":34.3},
{"d":"2024-10-30","o":34.3,"h":34.5,"l":33.6,"c":33.8},
{"d":"2024-10-31","o":33.8,"h":33.9,"l":32.6,"c":32.8},
{"d":"2024-11-01","o":32.8,"h":33.1,"l":32.4,"c":32.6},
{"d":"2024-11-04","o":32.6,"h":32.9,"l":32.4,"c":32.7},
{"d":"2024-11-05","o":32.7,"h":33.0,"l":32.3,"c":32.6},
{"d":"2024-11-06","o":32.6,"h":32.7,"l":31.1,"c":31.3},
{"d":"2024-11-07","o":31.3,"h":31.9,"l":31.0,"c":31.6},
{"d":"2024-11-08","o":31.6,"h":31.8,"l":31.0,"c":31.2},
{"d":"2024-11-11","o":31.2,"h":31.3,"l":30.5,"c":30.8},
{"d":"2024-11-12","o":30.8,"h":30.9,"l":30.1,"c":30.5},
{"d":"2024-11-13","o":30.5,"h":30.9,"l":30.3,"c":30.6},
{"d":"2024-11-14","o":30.6,"h":30.8,"l":30.0,"c":30.3},
{"d":"2024-11-15","o":30.3,"h":30.8,"l":30.2,"c":30.6},
{"d":"2024-11-18","o":30.6,"h":31.5,"l":30.5,"c":31.3},
{"d":"2024-11-19","o":31.3,"h":31.7,"l":31.1,"c":31.4},
{"d":"2024-11-20","o":31.4,"h":31.9,"l":31.2,"c":31.5},
{"d":"2024-11-21","o":31.5,"h":31.7,"l":31.0,"c":31.3},
{"d":"2024-11-22","o":31.3,"h":31.6,"l":31.0,"c":31.35},
{"d":"2024-11-25","o":31.35,"h":31.4,"l":30.3,"c":30.5},
{"d":"2024-11-26","o":30.5,"h":30.7,"l":30.1,"c":30.3},
{"d":"2024-11-27","o":30.3,"h":30.6,"l":30.1,"c":30.4},
{"d":"2024-11-29","o":30.4,"h":30.9,"l":30.3,"c":30.7},
{"d":"2024-12-02","o":30.7,"h":30.9,"l":30.2,"c":30.5},
{"d":"2024-12-03","o":30.5,"h":31.3,"l":30.4,"c":31.1},
{"d":"2024-12-04","o":31.1,"h":31.9,"l":31.0,"c":31.8},
{"d":"2024-12-05","o":31.8,"h":32.0,"l":31.4,"c":31.6},
{"d":"2024-12-06","o":31.6,"h":31.8,"l":31.2,"c":31.5},
{"d":"2024-12-09","o":31.5,"h":32.6,"l":31.4,"c":32.4},
{"d":"2024-12-10","o":32.4,"h":32.9,"l":32.3,"c":32.6},
{"d":"2024-12-11","o":32.6,"h":33.2,"l":32.5,"c":32.9},
{"d":"2024-12-12","o":32.9,"h":33.0,"l":31.7,"c":31.9},
{"d":"2024-12-13","o":31.9,"h":32.0,"l":31.0,"c":31.2},
{"d":"2024-12-16","o":31.2,"h":31.4,"l":30.8,"c":31.1},
{"d":"2024-12-17","o":31.1,"h":31.3,"l":30.6,"c":30.9},
{"d":"2024-12-18","o":30.9,"h":31.2,"l":30.0,"c":30.2},
{"d":"2024-12-19","o":30.2,"h":30.3,"l":29.2,"c":29.7},
{"d":"2024-12-20","o":29.7,"h":30.3,"l":29.5,"c":30.0},
{"d":"2024-12-23","o":30.0,"h":30.4,"l":29.8,"c":30.1},
{"d":"2024-12-24","o":30.1,"h":30.4,"l":29.9,"c":30.2},
{"d":"2024-12-26","o":30.2,"h":30.5,"l":30.0,"c":30.3},
{"d":"2024-12-27","o":30.3,"h":30.5,"l":29.7,"c":29.9},
{"d":"2024-12-30","o":29.9,"h":30.0,"l":29.2,"c":29.4},
{"d":"2024-12-31","o":29.4,"h":29.6,"l":29.1,"c":29.3},
{"d":"2025-01-02","o":29.3,"h":29.9,"l":29.1,"c":29.7},
{"d":"2025-01-03","o":29.7,"h":30.3,"l":29.6,"c":30.2},
{"d":"2025-01-06","o":30.2,"h":30.7,"l":30.0,"c":30.5},
{"d":"2025-01-07","o":30.5,"h":30.9,"l":30.3,"c":30.7},
{"d":"2025-01-08","o":30.7,"h":31.0,"l":30.4,"c":30.8},
{"d":"2025-01-09","o":30.8,"h":31.1,"l":30.6,"c":30.9},
{"d":"2025-01-10","o":30.9,"h":31.4,"l":30.8,"c":31.1},
{"d":"2025-01-13","o":31.1,"h":31.6,"l":30.9,"c":31.4},
{"d":"2025-01-14","o":31.4,"h":31.8,"l":31.2,"c":31.6},
{"d":"2025-01-15","o":31.6,"h":32.1,"l":31.4,"c":31.8},
{"d":"2025-01-16","o":31.8,"h":31.9,"l":31.3,"c":31.5},
{"d":"2025-01-17","o":31.5,"h":31.7,"l":31.0,"c":31.2},
{"d":"2025-01-21","o":31.2,"h":31.4,"l":30.8,"c":31.0},
{"d":"2025-01-22","o":31.0,"h":31.2,"l":30.6,"c":30.8},
{"d":"2025-01-23","o":30.8,"h":31.0,"l":30.4,"c":30.6},
{"d":"2025-01-24","o":30.6,"h":30.8,"l":30.1,"c":30.4},
{"d":"2025-01-27","o":30.4,"h":31.2,"l":30.3,"c":31.0},
{"d":"2025-01-28","o":31.0,"h":31.5,"l":30.8,"c":31.3},
{"d":"2025-01-29","o":31.3,"h":32.2,"l":31.2,"c":32.0},
{"d":"2025-01-30","o":32.0,"h":32.8,"l":31.9,"c":32.6},
{"d":"2025-01-31","o":32.6,"h":33.0,"l":32.4,"c":32.8},
{"d":"2025-02-03","o":32.8,"h":33.2,"l":32.5,"c":33.0},
{"d":"2025-02-04","o":33.0,"h":33.3,"l":32.8,"c":33.1},
{"d":"2025-02-05","o":33.1,"h":33.4,"l":32.6,"c":32.8},
{"d":"2025-02-06","o":32.8,"h":33.0,"l":32.3,"c":32.5},
{"d":"2025-02-07","o":32.5,"h":32.9,"l":32.3,"c":32.6}
],
"cot":[
{"d":"2023-02-07","p":5900,"t":17},
{"d":"2023-02-14","p":5500,"t":27},
{"d":"2023-02-21","p":5500,"t":25},
{"d":"2023-02-28","p":-6000,"t":6},
{"d":"2023-03-07","p":-18200,"t":-8},
{"d":"2023-03-14","p":-3900,"t":11},
{"d":"2023-03-21","p":600,"t":2},
{"d":"2023-03-28","p":9800,"t":19},
{"d":"2023-04-04","p":19400,"t":38},
{"d":"2023-04-11","p":19200,"t":37},
{"d":"2023-04-18","p":21400,"t":41},
{"d":"2023-04-25","p":24900,"t":37},
{"d":"2023-05-02","p":26800,"t":38},
{"d":"2023-05-09","p":27000,"t":41},
{"d":"2023-05-16","p":13300,"t":32},
{"d":"2023-05-23","p":13000,"t":32},
{"d":"2023-05-30","p":10300,"t":25},
{"d":"2023-06-06","p":11400,"t":22},
{"d":"2023-06-13","p":14500,"t":30},
{"d":"2023-06-20","p":11300,"t":23},
{"d":"2023-06-27","p":11500,"t":33},
{"d":"2023-07-03","p":10300,"t":19},
{"d":"2023-07-11","p":6400,"t":18},
{"d":"2023-07-18","p":30400,"t":38},
{"d":"2023-07-25","p":21500,"t":35},
{"d":"2023-08-01","p":13000,"t":23},
{"d":"2023-08-08","p":-3800,"t":16},
{"d":"2023-08-15","p":-6600,"t":21},
{"d":"2023-08-22","p":1400,"t":29},
{"d":"2023-08-29","p":17400,"t":32},
{"d":"2023-09-05","p":14000,"t":21},
{"d":"2023-09-12","p":1100,"t":13},
{"d":"2023-09-19","p":2200,"t":16},
{"d":"2023-09-26","p":5700,"t":19},
{"d":"2023-10-03","p":-1800,"t":1},
{"d":"2023-10-10","p":-4100,"t":4},
{"d":"2023-10-17","p":5000,"t":21},
{"d":"2023-10-24","p":8800,"t":8},
{"d":"2023-10-31","p":6600,"t":9},
{"d":"2023-11-07","p":2200,"t":4},
{"d":"2023-11-14","p":9300,"t":15},
{"d":"2023-11-21","p":16400,"t":15},
{"d":"2023-11-28","p":25800,"t":28},
{"d":"2023-12-05","p":22800,"t":36},
{"d":"2023-12-12","p":8700,"t":12},
{"d":"2023-12-19","p":16100,"t":20},
{"d":"2023-12-26","p":16900,"t":21},
{"d":"2024-01-02","p":15800,"t":15},
{"d":"2024-01-09","p":7900,"t":9},
{"d":"2024-01-16","p":5900,"t":15},
{"d":"2024-01-23","p":-3200,"t":2},
{"d":"2024-01-30","p":4900,"t":18},
{"d":"2024-02-06","p":-4900,"t":6},
{"d":"2024-02-13","p":-9700,"t":2},
{"d":"2024-02-20","p":5300,"t":19},
{"d":"2024-02-27","p":-4200,"t":3},
{"d":"2024-03-05","p":16400,"t":24},
{"d":"2024-03-12","p":27000,"t":34},
{"d":"2024-03-19","p":37900,"t":36},
{"d":"2024-03-26","p":30200,"t":28},
{"d":"2024-04-02","p":34000,"t":40},
{"d":"2024-04-09","p":38400,"t":36},
{"d":"2024-04-16","p":41000,"t":41},
{"d":"2024-04-23","p":40000,"t":50},
{"d":"2024-04-30","p":34000,"t":34},
{"d":"2024-05-07","p":35000,"t":38},
{"d":"2024-05-14","p":41700,"t":47},
{"d":"2024-05-21","p":37800,"t":41},
{"d":"2024-05-28","p":39600,"t":47},
{"d":"2024-06-04","p":35900,"t":41},
{"d":"2024-06-11","p":29600,"t":32},
{"d":"2024-06-18","p":32100,"t":32},
{"d":"2024-06-25","p":33000,"t":22},
{"d":"2024-07-02","p":32500,"t":32},
{"d":"2024-07-09","p":39800,"t":42},
{"d":"2024-07-16","p":38800,"t":40},
{"d":"2024-07-23","p":25800,"t":39},
{"d":"2024-07-30","p":24900,"t":36},
{"d":"2024-08-06","p":24900,"t":39},
{"d":"2024-08-13","p":24300,"t":40},
{"d":"2024-08-20","p":32100,"t":52},
{"d":"2024-08-27","p":35300,"t":46},
{"d":"2024-09-03","p":26600,"t":35},
{"d":"2024-09-10","p":27100,"t":28},
{"d":"2024-09-17","p":42500,"t":54},
{"d":"2024-09-24","p":46100,"t":55},
{"d":"2024-10-01","p":38200,"t":46},
{"d":"2024-10-08","p":34700,"t":36},
{"d":"2024-10-15","p":35700,"t":43},
{"d":"2024-10-22","p":47400,"t":55},
{"d":"2024-10-29","p":41800,"t":50},
{"d":"2024-11-05","p":33700,"t":35},
{"d":"2024-11-12","p":24200,"t":34},
{"d":"2024-11-19","p":25900,"t":23},
{"d":"2024-11-26","p":23200,"t":23},
{"d":"2024-12-03","p":25000,"t":29},
{"d":"2024-12-10","p":30600,"t":36},
{"d":"2024-12-17","p":22200,"t":30},
{"d":"2024-12-24","p":20500,"t":22},
{"d":"2024-12-31","p":16700,"t":20},
{"d":"2025-01-07","p":25800,"t":27},
{"d":"2025-01-14","p":28700,"t":34},
{"d":"2025-01-21","p":29400,"t":50},
{"d":"2025-01-28","p":26200,"t":46},
{"d":"2025-02-04","p":37400,"t":61}
]
},
"vconcat":[
{
"width":1079,"height":345,
"data":{"name":"px"},
"layer":[
{"mark":{"type":"rule","strokeWidth":1,"clip":true},
 "encoding":{
  "x":{"field":"d","type":"ordinal","scale":{"type":"point","range":[-0.7,1075.8],"padding":0},
   "axis":{"values":["2023-03-01","2023-05-01","2023-07-03","2023-09-01","2023-11-01","2024-01-02","2024-03-01","2024-05-01","2024-07-01","2024-09-03","2024-11-01","2025-01-02"],"labelExpr":"utcFormat(toDate(datum.value), '%b %Y')","labelAlign":"left","labelAngle":0,"labelPadding":9,"labelFontSize":13,"labelColor":"#333333","labelOverlap":false,"labelBound":false,"labelFlush":false,"ticks":false,"domain":false,"grid":true,"gridDash":[5,3],"gridColor":"#d4d4d4","title":null}},
  "y":{"field":"l","type":"quantitative","scale":{"domain":[18,38],"nice":false,"zero":false},
   "axis":{"orient":"right","values":[18,20,22,24,26,28,30,32,34,36,38],"tickCount":11,"labelExpr":"datum.value == 18 || datum.value == 38 ? '' : '' + datum.value","labelOverlap":false,"labelBound":false,"labelFlush":false,"ticks":false,"domain":false,"labelPadding":3,"labelFontSize":13,"labelColor":"#333333","gridColor":"#d9d9d9","title":null}},
  "y2":{"field":"h"},
  "color":{"condition":{"test":"datum.c >= datum.o","value":"#3ecf3e"},"value":"#c8553d"}
 }},
{"mark":{"type":"rule","strokeWidth":1.7,"clip":true},
 "encoding":{
  "x":{"field":"d","type":"ordinal"},
  "y":{"field":"o","type":"quantitative"},
  "y2":{"field":"c"},
  "color":{"condition":{"test":"datum.c >= datum.o","value":"#3ecf3e"},"value":"#c8553d"}
 }},
{"data":{"values":[{"t":"© SpreadCharts.com"}]},
 "mark":{"type":"text","align":"left","baseline":"middle","dx":-9.3,"fontSize":15,"fontWeight":"bold","color":"#c8c8c8"},
 "encoding":{"x":{"datum":"2023-02-07","type":"ordinal"},"y":{"datum":19.3,"type":"quantitative"},"text":{"field":"t"}}},
{"data":{"values":[]},
 "mark":{"type":"square"},
 "encoding":{"color":{"datum":"SI1","scale":{"domain":["SI1"],"range":["#3cc83c"]},
  "legend":{"orient":"none","legendX":0,"legendY":-21,"direction":"horizontal","title":"Price:","titleOrient":"left","titleFontSize":13,"titleFontWeight":"bold","titleColor":"#222222","titlePadding":14,"labelFontSize":13,"labelColor":"#333333","symbolType":"square","symbolSize":256,"symbolStrokeColor":"#2ea82e","symbolStrokeWidth":1,"symbolOpacity":1,"labelOffset":5,"padding":0}}}}
]
},
{
"width":1079,"height":345,
"data":{"name":"cot"},
"layer":[
{"mark":{"type":"area","color":"#98e698","clip":true},
 "encoding":{
  "x":{"field":"d","type":"ordinal","scale":{"type":"point","range":[-0.7,1075.8],"padding":0},
   "axis":{"values":["2023-03-01","2023-05-01","2023-07-03","2023-09-01","2023-11-01","2024-01-02","2024-03-01","2024-05-01","2024-07-01","2024-09-03","2024-11-01","2025-01-02"],"labelExpr":"utcFormat(toDate(datum.value), '%b %Y')","labelAlign":"left","labelAngle":0,"labelPadding":9,"labelFontSize":13,"labelColor":"#333333","labelOverlap":false,"labelBound":false,"labelFlush":false,"ticks":false,"domain":false,"grid":true,"gridDash":[5,3],"gridColor":"#d4d4d4","title":null}},
  "y":{"field":"p","type":"quantitative","stack":null,"scale":{"domain":[-20000,50000],"nice":false,"zero":true},
   "axis":{"orient":"right","values":[-20000,-10000,0,10000,20000,30000,40000,50000],"tickCount":8,"labelExpr":"datum.value == 50000 ? '' : datum.value == 0 ? '0' : (datum.value / 1000) + 'k'","labelOverlap":false,"labelBound":false,"labelFlush":false,"ticks":false,"domain":false,"labelPadding":3,"labelFontSize":13,"labelColor":"#333333","gridColor":"#d9d9d9","title":null}}
 }},
{"mark":{"type":"rule","color":"#5a9a5a","strokeWidth":1},"encoding":{"y":{"datum":0,"type":"quantitative"}}},
{"mark":{"type":"line","color":"#42b442","strokeWidth":2,"clip":true},
 "encoding":{"x":{"field":"d","type":"ordinal"},"y":{"field":"p","type":"quantitative"}}},
{"data":{"values":[{"t":"© SpreadCharts.com"}]},
 "mark":{"type":"text","align":"left","baseline":"middle","dx":-9.3,"fontSize":15,"fontWeight":"bold","color":"#c8c8c8"},
 "encoding":{"x":{"datum":"2023-02-07","type":"ordinal"},"y":{"datum":-15330,"type":"quantitative"},"text":{"field":"t"}}},
{"data":{"values":[]},
 "mark":{"type":"square"},
 "encoding":{"color":{"datum":"Speculators","scale":{"domain":["Hedgers","Speculators","Small traders"],"range":["#c8c8c8","#3cc83c","#c8c8c8"]},
  "legend":{"orient":"none","legendX":0,"legendY":-21,"direction":"horizontal","title":"COT net positions - SI:","titleOrient":"left","titleFontSize":13,"titleFontWeight":"bold","titleColor":"#222222","titlePadding":14,"titleLimit":300,"labelFontSize":13,"labelColor":"#333333","symbolType":"square","symbolSize":256,"symbolOpacity":1,"labelOffset":5,"columnPadding":61,"padding":0,
   "encode":{"symbols":{"update":{"shape":{"signal":"datum.value === 'Speculators' ? 'square' : 'M-0.66,-1L0.66,-1L0,-0.34Z M1,-0.66L1,0.66L0.34,0Z M0.66,1L-0.66,1L0,0.34Z M-1,0.66L-1,-0.66L-0.34,0Z'"},"stroke":{"signal":"datum.value === 'Speculators' ? '#2ea82e' : '#c8c8c8'"},"strokeWidth":{"value":1}}},
             "labels":{"update":{"fill":{"signal":"datum.value === 'Speculators' ? '#333333' : '#bdbdbd'"}}}}}}}}
]
},
{
"width":1079,"height":345,
"data":{"name":"cot"},
"layer":[
{"mark":{"type":"area","color":"#98e698","clip":true},
 "encoding":{
  "x":{"field":"d","type":"ordinal","scale":{"type":"point","range":[-0.7,1075.8],"padding":0},
   "axis":{"values":["2023-03-01","2023-05-01","2023-07-03","2023-09-01","2023-11-01","2024-01-02","2024-03-01","2024-05-01","2024-07-01","2024-09-03","2024-11-01","2025-01-02"],"labelExpr":"utcFormat(toDate(datum.value), '%b %Y')","labelAlign":"left","labelAngle":0,"labelPadding":9,"labelFontSize":13,"labelColor":"#333333","labelOverlap":false,"labelBound":false,"labelFlush":false,"ticks":false,"domain":false,"grid":true,"gridDash":[5,3],"gridColor":"#d4d4d4","title":null}},
  "y":{"field":"t","type":"quantitative","stack":null,"scale":{"domain":[-10,70],"nice":false,"zero":true},
   "axis":{"orient":"right","values":[-10,0,10,20,30,40,50,60,70],"tickCount":9,"labelExpr":"datum.value == 70 ? '' : '' + datum.value","labelOverlap":false,"labelBound":false,"labelFlush":false,"ticks":false,"domain":false,"labelPadding":3,"labelFontSize":13,"labelColor":"#333333","gridColor":"#d9d9d9","title":null}}
 }},
{"mark":{"type":"rule","color":"#5a9a5a","strokeWidth":1},"encoding":{"y":{"datum":0,"type":"quantitative"}}},
{"mark":{"type":"line","color":"#42b442","strokeWidth":2,"clip":true},
 "encoding":{"x":{"field":"d","type":"ordinal"},"y":{"field":"t","type":"quantitative"}}},
{"data":{"values":[{"t":"© SpreadCharts.com"}]},
 "mark":{"type":"text","align":"left","baseline":"middle","dx":-9.3,"fontSize":15,"fontWeight":"bold","color":"#c8c8c8"},
 "encoding":{"x":{"datum":"2023-02-07","type":"ordinal"},"y":{"datum":-4.67,"type":"quantitative"},"text":{"field":"t"}}},
{"data":{"values":[]},
 "mark":{"type":"square"},
 "encoding":{"color":{"datum":"Speculators","scale":{"domain":["Hedgers","Speculators"],"range":["#c8c8c8","#3cc83c"]},
  "legend":{"orient":"none","legendX":0,"legendY":-21,"direction":"horizontal","title":"COT net traders - SI:","titleOrient":"left","titleFontSize":13,"titleFontWeight":"bold","titleColor":"#222222","titlePadding":14,"titleLimit":300,"labelFontSize":13,"labelColor":"#333333","symbolType":"square","symbolSize":256,"symbolOpacity":1,"labelOffset":5,"columnPadding":61,"padding":0,
   "encode":{"symbols":{"update":{"shape":{"signal":"datum.value === 'Speculators' ? 'square' : 'M-0.66,-1L0.66,-1L0,-0.34Z M1,-0.66L1,0.66L0.34,0Z M0.66,1L-0.66,1L0,0.34Z M-1,0.66L-1,-0.66L-0.34,0Z'"},"stroke":{"signal":"datum.value === 'Speculators' ? '#2ea82e' : '#c8c8c8'"},"strokeWidth":{"value":1}}},
             "labels":{"update":{"fill":{"signal":"datum.value === 'Speculators' ? '#333333' : '#bdbdbd'"}}}}}}}}
]
}
]
}
